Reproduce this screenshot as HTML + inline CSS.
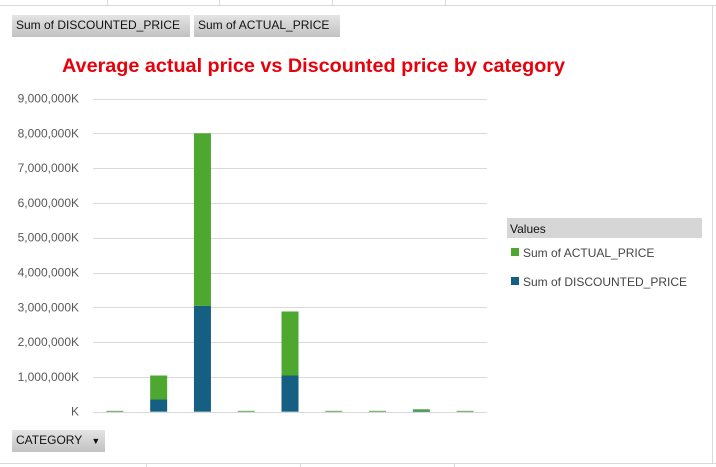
<!DOCTYPE html>
<html><head><meta charset="utf-8"><style>
body{margin:0;width:716px;height:467px;background:#fff;font-family:"Liberation Sans",sans-serif;overflow:hidden;position:relative}
.btn{position:absolute;background:linear-gradient(#e4e4e4,#c2c2c2);font-size:12px;color:#111;line-height:21px;padding-left:4px;box-sizing:border-box}
</style></head><body>
<svg width="716" height="467" style="position:absolute;left:0;top:0">
<g stroke="#d9d9d9" stroke-width="1">
<line x1="0" y1="5.5" x2="716" y2="5.5"/><line x1="107.5" y1="0" x2="107.5" y2="5"/><line x1="219.5" y1="0" x2="219.5" y2="5"/><line x1="332.5" y1="0" x2="332.5" y2="5"/><line x1="445.5" y1="0" x2="445.5" y2="5"/>
<line x1="0" y1="463.5" x2="716" y2="463.5"/><line x1="146.5" y1="463" x2="146.5" y2="467"/><line x1="300.5" y1="463" x2="300.5" y2="467"/><line x1="454.5" y1="463" x2="454.5" y2="467"/>
<line x1="712.5" y1="5" x2="712.5" y2="463"/>
</g>
<g id="grid"></g><g id="bars"></g>
<text x="62" y="72" font-size="19" font-weight="bold" fill="#e8000b" font-family="Liberation Sans Narrow,Liberation Sans,sans-serif" textLength="503" lengthAdjust="spacingAndGlyphs">Average actual price vs Discounted price by category</text>
<rect x="507" y="218" width="195" height="20" fill="#d6d6d6"/>
<text x="510" y="233" font-size="12" fill="#111">Values</text>
<rect x="511" y="248" width="8" height="8" fill="#4ea72e"/>
<text x="523" y="257" font-size="12" fill="#444">Sum of ACTUAL_PRICE</text>
<rect x="511" y="277" width="8" height="8" fill="#156082"/>
<text x="523" y="286" font-size="12" fill="#444">Sum of DISCOUNTED_PRICE</text>
</svg>
<div class="btn" style="left:12px;top:15px;width:178px;height:22px">Sum of DISCOUNTED_PRICE</div>
<div class="btn" style="left:194px;top:15px;width:146px;height:22px">Sum of ACTUAL_PRICE</div>
<div class="btn" style="left:12px;top:430px;width:93px;height:22px">CATEGORY <span style="font-size:9px;margin-left:6px">▼</span></div>
<script>
const categories=["c1","c2","c3","c4","c5","c6","c7","c8","c9"];
const discounted=[0.005,0.35,3.04,0.005,1.04,0.005,0.005,0.02,0.005];
const actual=[0.02,0.69,4.96,0.02,1.84,0.02,0.02,0.05,0.02];
const ticks=[0,1,2,3,4,5,6,7,8,9];
const tickLabels=["K","1,000,000K","2,000,000K","3,000,000K","4,000,000K","5,000,000K","6,000,000K","7,000,000K","8,000,000K","9,000,000K"];
const NS="http://www.w3.org/2000/svg";
const y0=411.7,pm=34.8,x0=93,x1=487;
const y=v=>y0-v*pm;
const step=(x1-x0)/categories.length;
const xc=i=>x0+step*(i+0.5);
const grid=document.getElementById('grid'),bars=document.getElementById('bars');
ticks.forEach((t,i)=>{
 const l=document.createElementNS(NS,'line');
 l.setAttribute('x1',x0);l.setAttribute('x2',x1);l.setAttribute('y1',Math.round(y(t))+0.5);l.setAttribute('y2',Math.round(y(t))+0.5);
 l.setAttribute('stroke','#d9d9d9');
 
 
 grid.appendChild(l);
 const tx=document.createElementNS(NS,'text');
 tx.setAttribute('x',79);tx.setAttribute('y',y(t)+4);tx.setAttribute('text-anchor','end');
 tx.setAttribute('font-size','12');tx.setAttribute('fill','#595959');
 tx.textContent=tickLabels[i];
 
 
 grid.appendChild(tx);
});
categories.forEach((c,i)=>{
 const w=17,x=xc(i)-w/2;
 const b=document.createElementNS(NS,'rect');
 b.setAttribute('x',x);b.setAttribute('width',w);b.setAttribute('y',y(discounted[i]));b.setAttribute('height',discounted[i]*pm);b.setAttribute('fill','#156082');
 
 
 bars.appendChild(b);
 const a=document.createElementNS(NS,'rect');
 a.setAttribute('x',x);a.setAttribute('width',w);a.setAttribute('y',y(discounted[i]+actual[i]));a.setAttribute('height',actual[i]*pm);a.setAttribute('fill','#4ea72e');
 
 
 bars.appendChild(a);
});
</script>
</body></html>
